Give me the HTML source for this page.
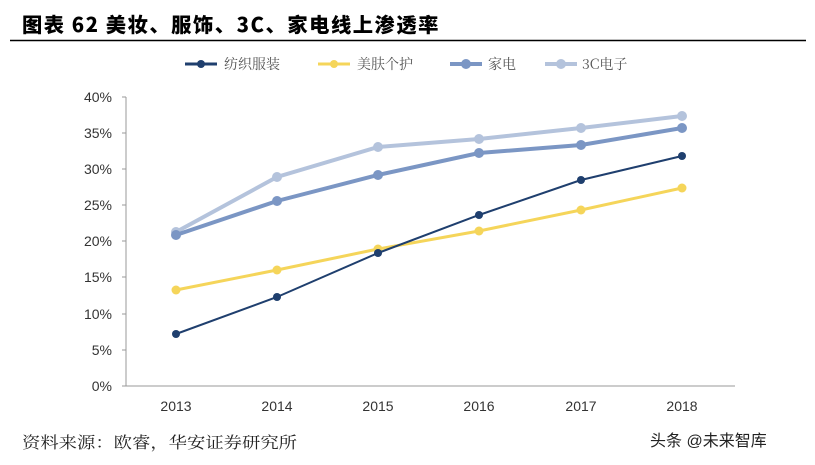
<!DOCTYPE html>
<html><head><meta charset="utf-8"><style>
html,body{margin:0;padding:0;background:#fff;}
svg{display:block;}
</style></head><body>
<svg width="815" height="465" viewBox="0 0 815 465" xmlns="http://www.w3.org/2000/svg">
<text x="22" y="32" font-family="'Noto Sans CJK SC',sans-serif" font-weight="900" font-size="20" letter-spacing="1.5" fill="#000" textLength="418" lengthAdjust="spacingAndGlyphs">图表 62 美妆、服饰、3C、家电线上渗透率</text>
<line x1="10" y1="40.5" x2="806" y2="40.5" stroke="#000" stroke-width="1.5"/>
<g font-family="'Noto Serif CJK SC',serif" font-size="14" fill="#555">
<line x1="185" y1="64" x2="217" y2="64" stroke="#1f3f6e" stroke-width="3"/><circle cx="201" cy="64" r="4" fill="#1f3f6e"/><text x="224" y="69">纺织服装</text>
<line x1="318" y1="64" x2="350" y2="64" stroke="#f5d55a" stroke-width="3"/><circle cx="334" cy="64" r="4" fill="#f5d55a"/><text x="357" y="69">美肤个护</text>
<line x1="450" y1="64" x2="482" y2="64" stroke="#7b96c4" stroke-width="4"/><circle cx="466" cy="64" r="5" fill="#7b96c4"/><text x="488" y="69">家电</text>
<line x1="545" y1="64" x2="577" y2="64" stroke="#b4c3dc" stroke-width="4"/><circle cx="561" cy="64" r="5" fill="#b4c3dc"/><text x="582" y="69">3C电子</text>
</g>
<g font-family="'Liberation Sans',sans-serif" font-size="14" fill="#333" text-anchor="end">
<text x="112" y="102">40%</text><text x="112" y="138">35%</text><text x="112" y="174">30%</text><text x="112" y="210">25%</text><text x="112" y="246">20%</text><text x="112" y="282">15%</text><text x="112" y="319">10%</text><text x="112" y="355">5%</text><text x="112" y="391">0%</text>
</g>
<line x1="126" y1="97" x2="126" y2="386" stroke="#999"/>
<g stroke="#999"><line x1="122" y1="97" x2="126" y2="97"/><line x1="122" y1="133" x2="126" y2="133"/><line x1="122" y1="169" x2="126" y2="169"/><line x1="122" y1="205" x2="126" y2="205"/><line x1="122" y1="241" x2="126" y2="241"/><line x1="122" y1="277" x2="126" y2="277"/><line x1="122" y1="314" x2="126" y2="314"/><line x1="122" y1="350" x2="126" y2="350"/><line x1="122" y1="386" x2="126" y2="386"/></g>
<line x1="126" y1="386" x2="735" y2="386" stroke="#999"/>
<g font-family="'Liberation Sans',sans-serif" font-size="14" fill="#333" text-anchor="middle">
<text x="176" y="411">2013</text><text x="277" y="411">2014</text><text x="378" y="411">2015</text><text x="479" y="411">2016</text><text x="581" y="411">2017</text><text x="682" y="411">2018</text>
</g>
<polyline points="176,232 277,177 378,147 479,139 581,128 682,116" fill="none" stroke="#b4c3dc" stroke-width="4"/>
<g fill="#b4c3dc"><circle cx="176" cy="232" r="5"/><circle cx="277" cy="177" r="5"/><circle cx="378" cy="147" r="5"/><circle cx="479" cy="139" r="5"/><circle cx="581" cy="128" r="5"/><circle cx="682" cy="116" r="5"/></g>
<polyline points="176,235 277,201 378,175 479,153 581,145 682,128" fill="none" stroke="#7b96c4" stroke-width="4"/>
<g fill="#7b96c4"><circle cx="176" cy="235" r="5"/><circle cx="277" cy="201" r="5"/><circle cx="378" cy="175" r="5"/><circle cx="479" cy="153" r="5"/><circle cx="581" cy="145" r="5"/><circle cx="682" cy="128" r="5"/></g>
<polyline points="176,290 277,270 378,249 479,231 581,210 682,188" fill="none" stroke="#f5d55a" stroke-width="3"/>
<g fill="#f5d55a"><circle cx="176" cy="290" r="4.5"/><circle cx="277" cy="270" r="4.5"/><circle cx="378" cy="249" r="4.5"/><circle cx="479" cy="231" r="4.5"/><circle cx="581" cy="210" r="4.5"/><circle cx="682" cy="188" r="4.5"/></g>
<polyline points="176,334 277,297 378,253 479,215 581,180 682,156" fill="none" stroke="#1f3f6e" stroke-width="2"/>
<g fill="#1f3f6e"><circle cx="176" cy="334" r="4"/><circle cx="277" cy="297" r="4"/><circle cx="378" cy="253" r="4"/><circle cx="479" cy="215" r="4"/><circle cx="581" cy="180" r="4"/><circle cx="682" cy="156" r="4"/></g>
<text x="22" y="448" font-family="'Noto Serif CJK SC',serif" font-size="16" fill="#222" textLength="275" lengthAdjust="spacingAndGlyphs">资料来源：欧睿，华安证券研究所</text>
<text x="650" y="446" font-family="'Liberation Sans','Noto Sans CJK SC',sans-serif" font-size="16" fill="#222">头条 @未来智库</text>
</svg>
</body></html>
